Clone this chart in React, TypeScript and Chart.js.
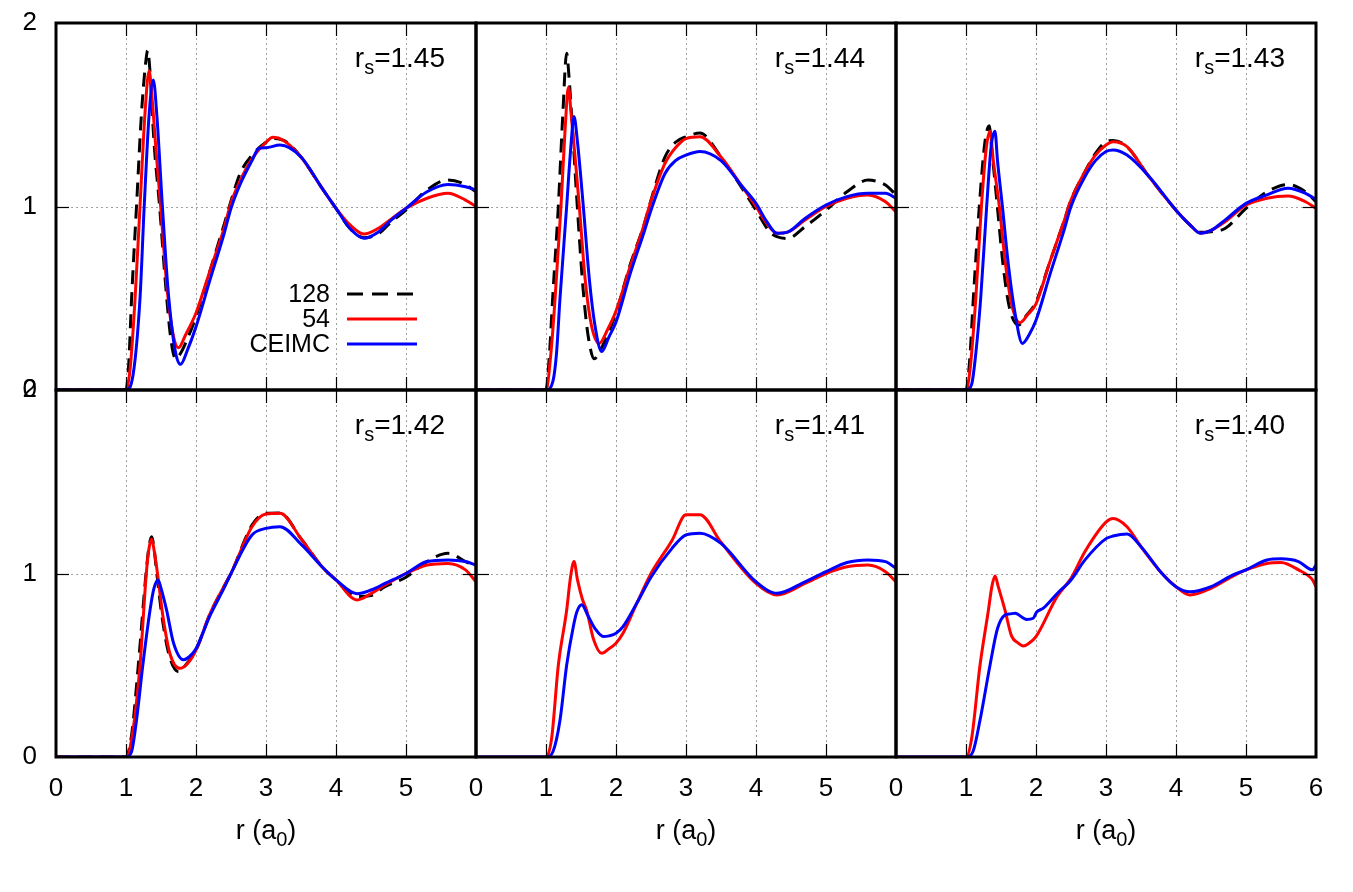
import React, { useEffect, useRef } from 'react';
import { Chart, registerables } from 'chart.js';

Chart.register(...registerables);

type P = [number, number];

const FONT = '"Liberation Sans", Arial, Helvetica, sans-serif';
const X_TICKS = [0, 1, 2, 3, 4, 5, 6];
const Y_TICKS = [0, 1, 2];
const X_GRID = [1, 2, 3, 4, 5];
const Y_GRID = [1];
const RS_LABELS = ['1.45', '1.44', '1.43', '1.42', '1.41', '1.40'];
const SERIES_NAMES = ['128', '54', 'CEIMC'];
const SERIES_COLORS = ['#000000', '#ff0000', '#0000ff'];

// rs = 1.45
const g128_145: P[] = [[0,0],[1.0,0],[1.04,0.15],[1.08,0.5],[1.15,1.0],[1.22,1.5],[1.28,1.78],[1.31,1.85],[1.34,1.75],[1.40,1.35],[1.48,1.0],[1.56,0.6],[1.64,0.28],[1.71,0.17],[1.78,0.2],[1.9,0.3],[2.0,0.40],[2.2,0.65],[2.4,0.90],[2.5,1.03],[2.63,1.18],[2.8,1.28],[3.0,1.35],[3.1,1.37],[3.3,1.35],[3.5,1.27],[3.8,1.10],[4.0,0.99],[4.2,0.88],[4.4,0.83],[4.6,0.85],[4.8,0.92],[5.0,0.98],[5.3,1.09],[5.6,1.145],[5.85,1.12],[6.0,1.08]];
const g54_145: P[] = [[0,0],[1.0,0],[1.06,0.12],[1.13,0.5],[1.2,1.0],[1.27,1.5],[1.33,1.74],[1.37,1.6],[1.43,1.3],[1.495,1.0],[1.58,0.58],[1.66,0.33],[1.75,0.23],[1.85,0.3],[2.0,0.42],[2.2,0.65],[2.4,0.88],[2.5,1.02],[2.63,1.14],[2.8,1.26],[3.0,1.35],[3.1,1.377],[3.25,1.36],[3.5,1.27],[3.8,1.10],[4.0,0.99],[4.2,0.90],[4.4,0.85],[4.6,0.88],[4.8,0.935],[5.0,0.99],[5.3,1.045],[5.6,1.072],[5.85,1.035],[6.0,1.0]];
const gC_145: P[] = [[0,0],[1.0,0],[1.1,0.08],[1.2,0.5],[1.26,1.0],[1.33,1.5],[1.39,1.69],[1.44,1.5],[1.52,1.0],[1.6,0.55],[1.7,0.22],[1.78,0.14],[1.88,0.22],[2.0,0.345],[2.2,0.6],[2.4,0.85],[2.5,0.99],[2.63,1.12],[2.8,1.25],[2.9,1.317],[3.0,1.32],[3.2,1.335],[3.5,1.27],[3.8,1.10],[4.0,0.99],[4.2,0.88],[4.4,0.827],[4.6,0.86],[4.8,0.93],[5.0,0.99],[5.3,1.08],[5.6,1.12],[5.85,1.108],[6.0,1.09]];

// rs = 1.44
const g128_144: P[] = [[0,0],[1.0,0],[1.05,0.2],[1.095,0.5],[1.176,1.0],[1.24,1.5],[1.295,1.835],[1.33,1.7],[1.39,1.35],[1.447,1.0],[1.53,0.55],[1.6,0.3],[1.69,0.17],[1.78,0.22],[1.9,0.32],[2.0,0.42],[2.2,0.68],[2.4,0.9],[2.5,1.035],[2.7,1.27],[2.85,1.35],[3.0,1.38],[3.2,1.40],[3.5,1.27],[3.8,1.10],[4.0,0.98],[4.2,0.86],[4.3,0.836],[4.45,0.826],[4.7,0.89],[5.0,0.98],[5.3,1.08],[5.6,1.144],[5.85,1.117],[6.0,1.063]];
const g54_144: P[] = [[0,0],[1.0,0],[1.07,0.2],[1.13,0.5],[1.214,1.0],[1.27,1.4],[1.32,1.65],[1.36,1.5],[1.42,1.25],[1.476,1.0],[1.56,0.6],[1.65,0.35],[1.76,0.254],[1.88,0.33],[2.0,0.43],[2.2,0.67],[2.4,0.9],[2.5,1.03],[2.7,1.235],[2.85,1.32],[3.0,1.37],[3.2,1.38],[3.5,1.27],[3.8,1.11],[4.0,1.0],[4.15,0.91],[4.3,0.854],[4.45,0.86],[4.7,0.926],[5.0,1.0],[5.3,1.045],[5.6,1.063],[5.85,1.026],[6.0,0.97]];
const gC_144: P[] = [[0,0],[1.0,0],[1.1,0.05],[1.15,0.2],[1.2,0.5],[1.295,1.0],[1.35,1.3],[1.40,1.49],[1.45,1.35],[1.533,1.0],[1.62,0.6],[1.7,0.35],[1.795,0.21],[1.9,0.29],[2.0,0.37],[2.2,0.63],[2.4,0.86],[2.5,0.98],[2.7,1.18],[2.85,1.25],[3.0,1.28],[3.2,1.30],[3.5,1.25],[3.8,1.11],[4.0,1.017],[4.15,0.92],[4.3,0.854],[4.45,0.86],[4.7,0.935],[5.0,1.008],[5.3,1.054],[5.6,1.072],[5.85,1.072],[6.0,1.045]];

// rs = 1.43
const g128_143: P[] = [[0,0],[1.0,0],[1.05,0.15],[1.105,0.5],[1.19,1.0],[1.27,1.35],[1.333,1.44],[1.37,1.3],[1.41,1.15],[1.448,1.0],[1.53,0.68],[1.62,0.45],[1.75,0.354],[1.85,0.4],[2.0,0.48],[2.2,0.7],[2.4,0.92],[2.5,1.035],[2.7,1.19],[2.85,1.29],[3.0,1.353],[3.1,1.36],[3.3,1.326],[3.6,1.17],[4.0,0.98],[4.2,0.9],[4.35,0.86],[4.5,0.863],[4.7,0.88],[5.0,0.99],[5.3,1.08],[5.6,1.12],[5.85,1.08],[6.0,1.026]];
const g54_143: P[] = [[0,0],[1.0,0],[1.06,0.12],[1.14,0.5],[1.22,1.0],[1.29,1.32],[1.343,1.41],[1.39,1.25],[1.476,1.0],[1.56,0.7],[1.65,0.47],[1.77,0.367],[1.88,0.41],[2.0,0.47],[2.2,0.7],[2.4,0.92],[2.5,1.035],[2.7,1.19],[2.85,1.28],[3.0,1.335],[3.1,1.353],[3.3,1.326],[3.6,1.17],[4.0,0.98],[4.2,0.9],[4.35,0.854],[4.5,0.87],[4.7,0.917],[5.0,1.008],[5.3,1.045],[5.6,1.057],[5.85,1.026],[6.0,0.99]];
const gC_143: P[] = [[0,0],[1.0,0],[1.08,0.03],[1.14,0.2],[1.21,0.5],[1.295,1.0],[1.36,1.33],[1.414,1.41],[1.45,1.25],[1.52,1.0],[1.6,0.7],[1.7,0.42],[1.805,0.254],[1.9,0.3],[2.0,0.38],[2.2,0.63],[2.4,0.87],[2.5,1.0],[2.7,1.163],[2.85,1.25],[3.0,1.30],[3.1,1.308],[3.3,1.28],[3.6,1.17],[4.0,0.98],[4.2,0.9],[4.35,0.854],[4.5,0.87],[4.7,0.926],[5.0,1.017],[5.3,1.063],[5.6,1.10],[5.85,1.072],[6.0,1.039]];

// rs = 1.42
const g128_142: P[] = [[0,0],[1.0,0],[1.08,0.12],[1.176,0.5],[1.286,1.0],[1.33,1.15],[1.367,1.20],[1.40,1.14],[1.44,1.0],[1.52,0.75],[1.62,0.55],[1.75,0.465],[1.85,0.5],[2.0,0.583],[2.2,0.78],[2.4,0.93],[2.5,1.0],[2.8,1.264],[3.0,1.328],[3.2,1.33],[3.5,1.19],[3.8,1.037],[4.0,0.965],[4.3,0.874],[4.5,0.88],[4.7,0.928],[5.0,0.98],[5.3,1.065],[5.6,1.11],[5.85,1.065],[6.0,1.037]];
const g54_142: P[] = [[0,0],[1.0,0],[1.09,0.12],[1.2,0.5],[1.29,1.0],[1.33,1.14],[1.367,1.186],[1.40,1.13],[1.45,1.0],[1.53,0.76],[1.63,0.56],[1.77,0.483],[1.88,0.51],[2.0,0.583],[2.2,0.78],[2.4,0.93],[2.5,1.0],[2.8,1.255],[3.0,1.324],[3.2,1.328],[3.5,1.19],[3.8,1.037],[4.0,0.965],[4.3,0.856],[4.5,0.89],[4.7,0.937],[5.0,1.0],[5.3,1.046],[5.6,1.055],[5.85,1.02],[6.0,0.955]];
const gC_142: P[] = [[0,0],[1.0,0],[1.08,0.03],[1.15,0.2],[1.24,0.5],[1.343,0.8],[1.40,0.92],[1.46,0.965],[1.5,0.92],[1.58,0.8],[1.68,0.62],[1.82,0.53],[1.9,0.545],[2.0,0.59],[2.2,0.77],[2.4,0.92],[2.5,1.0],[2.8,1.21],[3.0,1.246],[3.2,1.255],[3.5,1.16],[3.8,1.037],[4.0,0.965],[4.3,0.89],[4.5,0.91],[4.7,0.946],[5.0,1.0],[5.3,1.065],[5.6,1.074],[5.85,1.065],[6.0,1.046]];

// rs = 1.41
const g54_141: P[] = [[0,0],[1.0,0],[1.08,0.1],[1.176,0.5],[1.295,0.8],[1.35,0.98],[1.40,1.065],[1.45,0.965],[1.52,0.86],[1.58,0.8],[1.68,0.64],[1.795,0.565],[1.9,0.59],[2.0,0.62],[2.1,0.674],[2.3,0.84],[2.5,1.0],[2.8,1.18],[3.0,1.32],[3.2,1.32],[3.5,1.17],[4.0,0.946],[4.3,0.883],[4.7,0.946],[5.0,1.0],[5.3,1.037],[5.6,1.046],[5.85,1.01],[6.0,0.955]];
const gC_141: P[] = [[0,0],[1.0,0],[1.1,0.03],[1.2,0.2],[1.295,0.5],[1.39,0.71],[1.44,0.79],[1.51,0.83],[1.6,0.77],[1.7,0.7],[1.82,0.656],[1.9,0.66],[2.0,0.674],[2.1,0.71],[2.3,0.84],[2.5,0.98],[2.8,1.137],[3.0,1.21],[3.2,1.22],[3.5,1.164],[4.0,0.955],[4.3,0.892],[4.7,0.955],[5.0,1.01],[5.3,1.06],[5.6,1.074],[5.85,1.065],[6.0,1.028]];

// rs = 1.40
const g54_140: P[] = [[0,0],[1.0,0],[1.08,0.1],[1.2,0.5],[1.32,0.8],[1.37,0.93],[1.414,0.986],[1.46,0.93],[1.557,0.8],[1.65,0.66],[1.75,0.62],[1.82,0.605],[1.9,0.62],[2.0,0.656],[2.3,0.874],[2.5,0.974],[2.7,1.12],[3.0,1.28],[3.1,1.30],[3.3,1.255],[3.5,1.146],[3.8,1.0],[4.0,0.928],[4.2,0.883],[4.5,0.919],[4.8,0.983],[5.0,1.02],[5.3,1.055],[5.5,1.06],[5.75,1.02],[5.95,0.965],[6.0,0.928]];
const gC_140: P[] = [[0,0],[1.0,0],[1.1,0.03],[1.2,0.2],[1.343,0.5],[1.45,0.7],[1.557,0.774],[1.63,0.78],[1.70,0.783],[1.867,0.75],[1.96,0.756],[2.01,0.79],[2.1,0.81],[2.3,0.89],[2.5,0.965],[2.7,1.074],[3.0,1.19],[3.1,1.204],[3.3,1.215],[3.5,1.146],[3.8,1.0],[4.0,0.928],[4.2,0.90],[4.5,0.928],[4.8,0.99],[5.0,1.02],[5.3,1.074],[5.5,1.08],[5.75,1.065],[5.95,1.02],[6.0,1.046]];

const PANEL_SERIES: (P[] | null)[][] = [
  [g128_145, g54_145, gC_145],
  [g128_144, g54_144, gC_144],
  [g128_143, g54_143, gC_143],
  [g128_142, g54_142, gC_142],
  [null, g54_141, gC_141],
  [null, g54_140, gC_140],
];

const PAGE_W = 1353;
const PAGE_H = 892;
const COL_X = [56, 476, 896, 1316];
const ROW_Y = [23, 390, 757];
const Y_AXIS_W = 56;
const X_AXIS_H = 60;

const framePlugin = {
  id: 'frame',
  beforeDatasetsDraw(chart: any) {
    const { ctx, chartArea: a, scales } = chart;
    const x = scales.x, y = scales.y;
    ctx.save();
    ctx.strokeStyle = '#a0a0a0';
    ctx.lineWidth = 1;
    ctx.setLineDash([2, 3]);
    for (const v of X_GRID) {
      const px = Math.round(x.getPixelForValue(v)) + 0.5;
      ctx.beginPath(); ctx.moveTo(px, a.top); ctx.lineTo(px, a.bottom); ctx.stroke();
    }
    for (const v of Y_GRID) {
      const py = Math.round(y.getPixelForValue(v)) + 0.5;
      ctx.beginPath(); ctx.moveTo(a.left, py); ctx.lineTo(a.right, py); ctx.stroke();
    }
    ctx.restore();
  },
  afterDatasetsDraw(chart: any, _args: any, opts: any) {
    const { ctx, chartArea: a, scales } = chart;
    const x = scales.x, y = scales.y;
    ctx.save();
    // inward ticks
    ctx.strokeStyle = '#000';
    ctx.lineWidth = 1.2;
    const TL = 13;
    for (const v of X_GRID) {
      const px = Math.round(x.getPixelForValue(v)) + 0.5;
      ctx.beginPath(); ctx.moveTo(px, a.bottom); ctx.lineTo(px, a.bottom - TL); ctx.stroke();
      ctx.beginPath(); ctx.moveTo(px, a.top); ctx.lineTo(px, a.top + TL); ctx.stroke();
    }
    for (const v of Y_GRID) {
      const py = Math.round(y.getPixelForValue(v)) + 0.5;
      ctx.beginPath(); ctx.moveTo(a.left, py); ctx.lineTo(a.left + TL, py); ctx.stroke();
      ctx.beginPath(); ctx.moveTo(a.right, py); ctx.lineTo(a.right - TL, py); ctx.stroke();
    }
    // frame
    ctx.lineWidth = 3;
    ctx.strokeRect(a.left, a.top, a.right - a.left, a.bottom - a.top);

    // r_s label
    ctx.fillStyle = '#000';
    ctx.textBaseline = 'alphabetic';
    ctx.textAlign = 'left';
    const big = `28px ${FONT}`;
    const small = `20px ${FONT}`;
    ctx.font = big;
    const wR = ctx.measureText('r').width;
    const rest = '=' + opts.rs;
    const wRest = ctx.measureText(rest).width;
    ctx.font = small;
    const wS = ctx.measureText('s').width;
    const total = wR + wS + wRest;
    let sx = a.right - 31 - total;
    const by = a.top + 44;
    ctx.font = big; ctx.fillText('r', sx, by); sx += wR;
    ctx.font = small; ctx.fillText('s', sx, by + 7); sx += wS;
    ctx.font = big; ctx.fillText(rest, sx, by);

    // legend
    if (opts.legend) {
      ctx.font = `25px ${FONT}`;
      ctx.textAlign = 'right';
      ctx.textBaseline = 'middle';
      const tx = a.left + 274;
      const rows = [294, 319, 344];
      SERIES_NAMES.forEach((name, i) => {
        const ry = rows[i];
        ctx.fillStyle = '#000';
        ctx.fillText(name, tx, ry + 1);
        ctx.strokeStyle = SERIES_COLORS[i];
        ctx.lineWidth = 3;
        ctx.setLineDash(i === 0 ? [16, 9] : []);
        ctx.beginPath(); ctx.moveTo(a.left + 291, ry); ctx.lineTo(a.left + 361, ry); ctx.stroke();
      });
      ctx.setLineDash([]);
    }

    // x title r (a_0)
    if (opts.xtitle) {
      const tf = `27px ${FONT}`;
      const sf = `20px ${FONT}`;
      ctx.fillStyle = '#000';
      ctx.textAlign = 'left';
      ctx.textBaseline = 'alphabetic';
      ctx.font = tf;
      const w1 = ctx.measureText('r (a').width;
      const w3 = ctx.measureText(')').width;
      ctx.font = sf;
      const w2 = ctx.measureText('0').width;
      const cx = x.getPixelForValue(3);
      let tx = cx - (w1 + w2 + w3) / 2;
      const ty = 839;
      ctx.font = tf; ctx.fillText('r (a', tx, ty); tx += w1;
      ctx.font = sf; ctx.fillText('0', tx, ty + 7); tx += w2;
      ctx.font = tf; ctx.fillText(')', tx, ty);
    }
    ctx.restore();
  },
};

const zeroPad = (s: any) => {
  s.paddingLeft = 0; s.paddingRight = 0; s.paddingTop = 0; s.paddingBottom = 0;
};

export default function App() {
  const refs = useRef<(HTMLCanvasElement | null)[]>([]);

  useEffect(() => {
    const charts: Chart[] = [];
    PANEL_SERIES.forEach((series, i) => {
      const canvas = refs.current[i];
      if (!canvas) return;
      const col = i % 3;
      const row = Math.floor(i / 3);
      const L = COL_X[col], R = COL_X[col + 1];
      const T = ROW_Y[row], B = ROW_Y[row + 1];
      const datasets: any[] = [];
      series.forEach((data, k) => {
        if (!data) return;
        datasets.push({
          label: SERIES_NAMES[k],
          data: data.map(([xv, yv]) => ({ x: xv, y: yv })),
          borderColor: SERIES_COLORS[k],
          borderWidth: 3,
          borderDash: k === 0 ? [14, 8] : [],
          pointRadius: 0,
          fill: false,
          cubicInterpolationMode: 'monotone',
          order: 3 - k,
        });
      });
      const chart = new Chart(canvas, {
        type: 'line',
        data: { datasets },
        plugins: [framePlugin as any],
        options: {
          animation: false,
          responsive: false,
          maintainAspectRatio: false,
          devicePixelRatio: 1,
          events: [],
          layout: {
            padding: {
              left: L - Y_AXIS_W,
              top: T,
              right: PAGE_W - R,
              bottom: PAGE_H - B - X_AXIS_H,
            },
          },
          plugins: {
            legend: { display: false },
            tooltip: { enabled: false },
            title: { display: false },
            frame: { rs: RS_LABELS[i], legend: i === 0, xtitle: row === 1 },
          } as any,
          scales: {
            x: {
              type: 'linear',
              min: 0,
              max: 6,
              afterFit: (s: any) => { s.height = X_AXIS_H; zeroPad(s); },
              afterBuildTicks: (s: any) => { s.ticks = X_TICKS.map((v) => ({ value: v })); },
              grid: { display: false },
              border: { display: false },
              ticks: {
                display: row === 1,
                autoSkip: false,
                maxRotation: 0,
                minRotation: 0,
                padding: 8,
                color: '#000',
                font: { family: FONT, size: 26 },
                callback: (v: any) => (col < 2 && Number(v) === 6 ? '' : String(v)),
              },
            },
            y: {
              type: 'linear',
              min: 0,
              max: 2,
              afterFit: (s: any) => { s.width = Y_AXIS_W; zeroPad(s); },
              afterBuildTicks: (s: any) => { s.ticks = Y_TICKS.map((v) => ({ value: v })); },
              grid: { display: false },
              border: { display: false },
              ticks: {
                display: col === 0,
                autoSkip: false,
                padding: 11,
                color: '#000',
                font: { family: FONT, size: 26 },
                callback: (v: any) => String(v),
              },
            },
          } as any,
        },
      });
      charts.push(chart);
    });
    return () => charts.forEach((c) => c.destroy());
  }, []);

  return (
    <div style={{ position: 'absolute', left: 0, top: 0, width: PAGE_W, height: PAGE_H, background: '#fff' }}>
      {PANEL_SERIES.map((_, i) => (
        <canvas
          key={i}
          ref={(el) => { refs.current[i] = el; }}
          width={PAGE_W}
          height={PAGE_H}
          style={{ position: 'absolute', left: 0, top: 0, width: PAGE_W, height: PAGE_H }}
        />
      ))}
    </div>
  );
}
